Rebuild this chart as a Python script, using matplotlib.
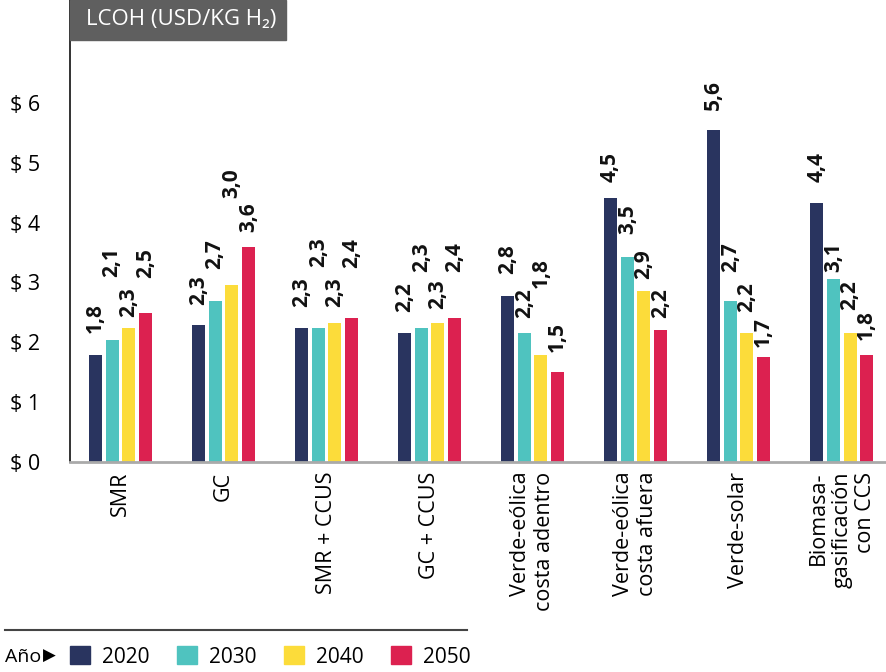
import matplotlib
matplotlib.use("Agg")
import matplotlib.pyplot as plt
import numpy as np
from matplotlib.patches import Rectangle, Patch
from matplotlib.lines import Line2D

plt.rcParams['font.family'] = ['Open Sans', 'DejaVu Sans']

categories = ["SMR", "GC", "SMR + CCUS", "GC + CCUS",
              "Verde-eólica\ncosta adentro", "Verde-eólica\ncosta afuera",
              "Verde-solar", "Biomasa-\ngasificación\ncon CCS"]
years = ["2020", "2030", "2040", "2050"]
colors = ["#29345f", "#4fc3bf", "#fcdc3a", "#dc2150"]

# bar heights per year
v2020 = [1.79, 2.29, 2.24, 2.16, 2.78, 4.41, 5.54, 4.33]
v2030 = [2.04, 2.69, 2.24, 2.24, 2.16, 3.43, 2.69, 3.06]
v2040 = [2.24, 2.96, 2.32, 2.32, 1.79, 2.86, 2.16, 2.16]
v2050 = [2.49, 3.60, 2.41, 2.41, 1.50, 2.21, 1.76, 1.79]

# printed labels per year
l2020 = ["1,8", "2,3", "2,3", "2,2", "2,8", "4,5", "5,6", "4,4"]
l2030 = ["2,1", "2,7", "2,3", "2,3", "2,2", "3,5", "2,7", "3,1"]
l2040 = ["2,3", "3,0", "2,3", "2,3", "1,8", "2,9", "2,2", "2,2"]
l2050 = ["2,5", "3,6", "2,4", "2,4", "1,5", "2,2", "1,7", "1,8"]

# where each printed label sits (value units, as in the original)
y2020 = [2.16, 2.63, 2.59, 2.51, 3.14, 4.68, 5.89, 4.68]
y2030 = [3.09, 3.23, 3.26, 3.18, 2.41, 3.81, 3.18, 3.18]
y2040 = [2.42, 4.41, 2.59, 2.56, 2.91, 3.06, 2.51, 2.54]
y2050 = [3.07, 3.85, 3.24, 3.18, 1.84, 2.41, 1.92, 2.04]

values = [v2020, v2030, v2040, v2050]
labels = [l2020, l2030, l2040, l2050]
label_y = [y2020, y2030, y2040, y2050]

fig = plt.figure(figsize=(8.87, 6.72), dpi=100)
ax = fig.add_axes([70 / 887, 1 - 462 / 672, 1 - 70 / 887, 462 / 672])

x = np.arange(len(categories))
w = 0.126
step = 0.162
for i in range(4):
    xs = x + (i - 1.5) * step
    ax.bar(xs, values[i], width=w, color=colors[i], zorder=2)
    for xi, lab, ly in zip(xs, labels[i], label_y[i]):
        ax.text(xi, ly, lab, rotation=90, ha='center', va='bottom',
                fontsize=15, fontweight='bold', color='#111111')

ax.set_xlim(-0.49, 7.44)
ax.set_ylim(0, 7.72)
ax.set_yticks(range(7))
ax.set_yticklabels(["$ %d" % v for v in range(7)])
ax.tick_params(axis='y', length=0, pad=43, labelsize=15.5)
for t in ax.get_yticklabels():
    t.set_horizontalalignment('left')

ax.set_xticks(x)
ax.set_xticklabels(categories, rotation=90, fontsize=15.5, linespacing=1.15)
for t in ax.get_xticklabels():
    t.set_multialignment('right')
ax.tick_params(axis='x', length=0, pad=7)

for s in ['top', 'right']:
    ax.spines[s].set_visible(False)
ax.spines['left'].set_color('#222222')
ax.spines['left'].set_linewidth(1.3)
ax.spines['bottom'].set_color('#aaaaaa')
ax.spines['bottom'].set_linewidth(2)

# title box
fig.add_artist(Rectangle((70 / 887, 1 - 40 / 672), 216 / 887, 40 / 672,
                         transform=fig.transFigure, color='#5f5f5f', zorder=5))
fig.text(86 / 887, 1 - 20 / 672, "LCOH (USD/KG H₂)", color='white',
         fontsize=16, ha='left', va='center', zorder=6)

# legend
fig.add_artist(Line2D([5 / 887, 467 / 887], [1 - 630 / 672, 1 - 630 / 672],
                      transform=fig.transFigure, color='#444444', lw=1.5))
fig.text(5 / 887, 1 - 657 / 672, "Año", fontsize=14, va='center', ha='left')
fig.text(43 / 887, 1 - 656 / 672, "▶", fontsize=12, va='center', ha='left',
         family=['DejaVu Sans'])
handles = [Patch(color=c) for c in colors]
fig.legend(handles, years, loc='center left', ncol=4, frameon=False,
           bbox_to_anchor=(70 / 887, 1 - 657 / 672), fontsize=15,
           handlelength=0.95, handleheight=0.95, handletextpad=0.6,
           columnspacing=1.3, borderaxespad=0, borderpad=0)

fig.savefig("out.png", dpi=100)
